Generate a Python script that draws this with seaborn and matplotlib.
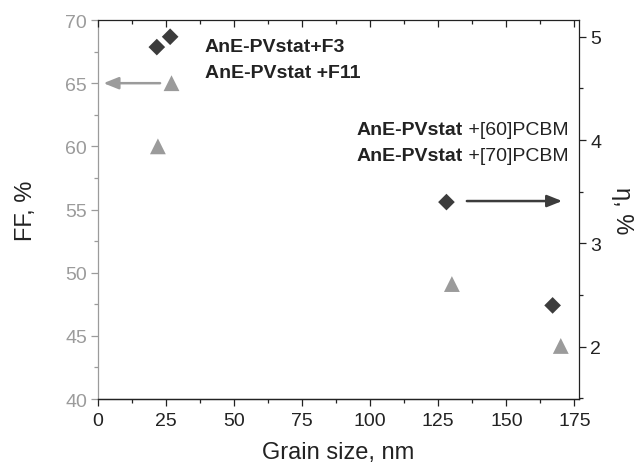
import matplotlib
matplotlib.use('Agg')
import matplotlib.pyplot as plt
import seaborn as sns
import pandas as pd
from matplotlib.ticker import MultipleLocator

# FF (left axis, grey triangles)
grain_ff = [22.0, 27.0, 130.0, 170.0]
ff_values = [60.0, 65.0, 49.1, 44.2]

# efficiency eta (right axis, dark diamonds)
grain_eta = [21.6, 26.5, 128.0, 167.0]
eta_values = [4.90, 5.00, 3.40, 2.40]

ff_df = pd.DataFrame({'grain': grain_ff, 'ff': ff_values})
eta_df = pd.DataFrame({'grain': grain_eta, 'eta': eta_values})

grey = '#9b9b9b'
dark = '#3c3c3c'

sns.set_style('ticks')
plt.rcParams['font.family'] = ['Liberation Sans', 'DejaVu Sans']

fig = plt.figure(figsize=(6.41, 4.64), dpi=100)
ax = fig.add_axes([0.1529, 0.1379, 0.7504, 0.8168])
ax2 = ax.twinx()

sns.scatterplot(data=ff_df, x='grain', y='ff', ax=ax, marker='^', s=130,
                color=grey, edgecolor='none', zorder=3)
sns.scatterplot(data=eta_df, x='grain', y='eta', ax=ax2, marker='D', s=72,
                color=dark, edgecolor='none', zorder=3)

ax.set_xlim(0, 176.7)
ax.set_ylim(40, 70)
ax2.set_ylim(1.494, 5.162)

ax.xaxis.set_major_locator(MultipleLocator(25))
ax.xaxis.set_minor_locator(MultipleLocator(12.5))
ax.yaxis.set_major_locator(MultipleLocator(5))
ax.yaxis.set_minor_locator(MultipleLocator(2.5))
ax2.yaxis.set_major_locator(MultipleLocator(1))
ax2.yaxis.set_minor_locator(MultipleLocator(0.5))

ax.set_xlabel('Grain size, nm', fontsize=17, color='#222222', labelpad=9)
ax.set_ylabel('FF, %', fontsize=17, color='#222222', labelpad=20)
ax2.set_ylabel('η, %', fontsize=17, color='#222222', rotation=270, labelpad=23)

# spines
for s in ['top', 'right']:
    ax.spines[s].set_visible(False)
ax2.spines['left'].set_visible(False)
ax.spines['left'].set_color(grey)
ax.spines['bottom'].set_color('#222222')
for s in ['top', 'right', 'bottom']:
    ax2.spines[s].set_color('#222222')
for a in (ax, ax2):
    for sp in a.spines.values():
        sp.set_linewidth(0.9)

tick_fs = 14
ax.tick_params(axis='y', which='both', colors=grey, labelsize=tick_fs, width=0.9, pad=3)
ax.tick_params(axis='y', which='major', length=5)
ax.tick_params(axis='y', which='minor', length=3)
ax.tick_params(axis='x', which='both', colors='#222222', labelsize=tick_fs, width=0.9, pad=4)
ax.tick_params(axis='x', which='major', length=5)
ax.tick_params(axis='x', which='minor', length=3)
ax2.tick_params(axis='y', which='both', colors='#222222', labelsize=tick_fs, width=0.9, pad=3)
ax2.tick_params(axis='y', which='major', length=5)
ax2.tick_params(axis='y', which='minor', length=3)

# inward ticks on the top edge
ax2.xaxis.set_visible(True)
ax2.tick_params(axis='x', which='both', bottom=False, top=True, labelbottom=False,
                labeltop=False, direction='in', colors='#222222', width=0.9)
ax2.tick_params(axis='x', which='major', length=5)
ax2.tick_params(axis='x', which='minor', length=3)
ax2.set_xlabel('')

# arrows pointing to the axis each series belongs to
ax.annotate('', xy=(2.0, 65.0), xytext=(22.8, 65.0),
            arrowprops=dict(arrowstyle='-|>,head_length=0.5,head_width=0.2', color=grey,
                            lw=1.8, mutation_scale=18, shrinkA=0, shrinkB=0))
ax2.annotate('', xy=(170.5, 3.41), xytext=(135.5, 3.41),
             arrowprops=dict(arrowstyle='-|>,head_length=0.5,head_width=0.2', color=dark,
                             lw=1.8, mutation_scale=18, shrinkA=0, shrinkB=0))

# labels
fs = 14
ax.text(39.3, 67.9, 'AnE-PVstat+F3', fontsize=fs, fontweight='bold',
        color='#222222', va='center', ha='left')
ax.text(39.3, 65.86, 'AnE-PVstat +F11', fontsize=fs, fontweight='bold',
        color='#222222', va='center', ha='left')

for yv, tail in [(61.37, ' +[60]PCBM'), (59.31, ' +[70]PCBM')]:
    t = ax.text(172.8, yv, tail, fontsize=fs, color='#222222', va='center', ha='right')
    ax.annotate('AnE-PVstat', xy=(0, 0.5), xycoords=t, fontsize=fs,
                fontweight='bold', color='#222222', va='center', ha='right')

fig.savefig('out.png', dpi=100)
